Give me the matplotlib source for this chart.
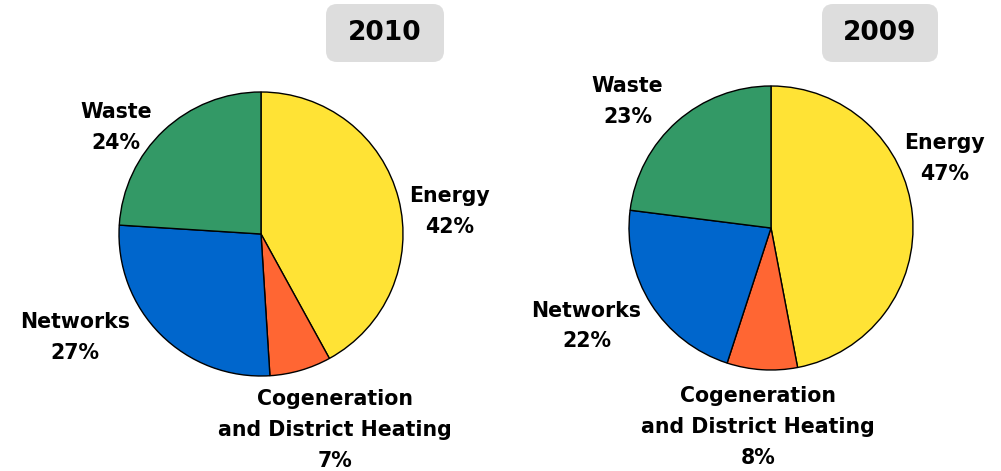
import matplotlib.pyplot as plt
from matplotlib.patches import FancyBboxPatch

# data
categories = ["Energy", "Cogeneration\nand District Heating", "Networks", "Waste"]
colors = ["#FFE335", "#FF6633", "#0066CC", "#339966"]
years = ["2010", "2009"]
values_2010 = [42, 7, 27, 24]
values_2009 = [47, 8, 22, 23]

W, H = 1001, 471
fig = plt.figure(figsize=(W / 100, H / 100), dpi=100)

# pie centre (px), radius (px), label positions in pie units, title box (px)
layouts = [
    dict(c=(261, 234), r=142, box=(326, 4, 444, 62),
         lab=[(1.33, 0.16), (0.52, -1.38), (-1.31, -0.73), (-1.02, 0.75)]),
    dict(c=(771, 228), r=142, box=(822, 4, 938, 62),
         lab=[(1.22, 0.49), (-0.09, -1.40), (-1.30, -0.69), (-1.01, 0.89)]),
]

for year, vals, lay in zip(years, [values_2010, values_2009], layouts):
    cx, cy = lay["c"]
    r = lay["r"]
    ax = fig.add_axes([(cx - r) / W, (H - cy - r) / H, 2 * r / W, 2 * r / H])
    wedges, _ = ax.pie(vals, colors=colors, startangle=90, counterclock=False,
                       wedgeprops=dict(edgecolor="black", linewidth=1.0, clip_on=False))
    ax.set_xlim(-1, 1)
    ax.set_ylim(-1, 1)
    ax.set_aspect("equal")
    for cat, v, (lx, ly) in zip(categories, vals, lay["lab"]):
        ax.text(lx, ly, "%s\n%d%%" % (cat, v), ha="center", va="center",
                fontsize=14.8, fontweight="bold", linespacing=1.68, clip_on=False)

    x0, y0, x1, y1 = lay["box"]
    box = FancyBboxPatch((x0 / 100, (H - y1) / 100), (x1 - x0) / 100, (y1 - y0) / 100,
                         boxstyle="round,pad=0,rounding_size=0.11",
                         transform=fig.dpi_scale_trans, facecolor="#DDDDDD",
                         edgecolor="none")
    fig.patches.append(box)
    fig.text((x0 + x1) / 2 / W, 1 - (y0 + y1) / 2 / H, year, ha="center", va="center",
             fontsize=19, fontweight="bold")

fig.savefig("out.png", dpi=100, facecolor="white")
